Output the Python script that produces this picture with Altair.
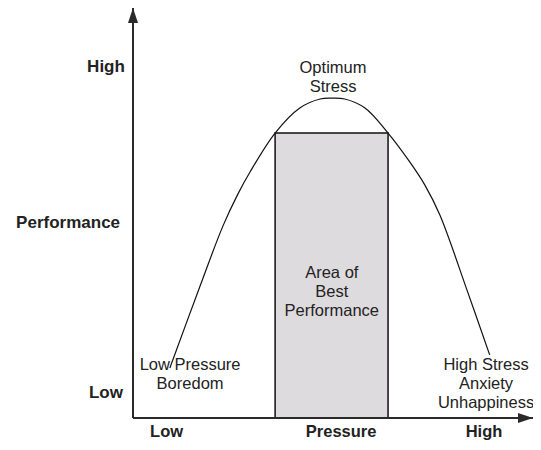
import altair as alt
import pandas as pd

# Inverted-U curve: pressure (x) vs performance (y), both on a 0-100 scale
pressure = [9.1, 16.5, 22.2, 25.9, 28.9, 35.1, 41.2, 46.2, 49.1,
            52.3, 57.3, 63.0, 68.4, 72.1, 75.8, 82.5, 88.1]
performance = [12.2, 32.0, 46.8, 54.6, 60.0, 69.5, 75.6, 77.8, 78.0,
               77.8, 75.6, 69.5, 62.4, 56.8, 49.5, 31.2, 15.4]

# Shaded "area of best performance"
zone_start = [35.1]
zone_end = [63.0]
zone_top = [69.5]

# Axis labels
y_label_text = ["High", "Performance", "Low"]
y_label_pos = [85.6, 47.6, 6.1]
x_label_text = ["Low", "Pressure", "High"]
x_label_pos = [8.3, 51.4, 86.7]

# Annotations
ann_text = ["Optimum\nStress", "Low Pressure\nBoredom",
            "Area of\nBest\nPerformance", "High Stress\nAnxiety\nUnhappiness"]
ann_x = [49.4, 14.1, 49.1, 87.2]
ann_y = [85.4, 12.9, 35.4, 12.9]

X_MIN, X_MAX = 0, 98.8
Y_MIN, Y_MAX = 0, 100

xs = alt.Scale(domain=[X_MIN, X_MAX], nice=False, zero=False)
ys = alt.Scale(domain=[Y_MIN, Y_MAX], nice=False, zero=False)

curve_df = pd.DataFrame({"x": pressure, "y": performance})
zone_df = pd.DataFrame({"x0": zone_start, "x1": zone_end, "y0": [Y_MIN], "y1": zone_top})
ylab_df = pd.DataFrame({"t": y_label_text, "y": y_label_pos, "x": [-2.0, -3.2, -2.5]})
xlab_df = pd.DataFrame({"t": x_label_text, "x": x_label_pos, "y": [-3.3] * 3})
ann_df = pd.DataFrame({"t": ann_text, "x": ann_x, "y": ann_y})
yaxis_df = pd.DataFrame({"x": [X_MIN], "y": [Y_MIN], "y2": [Y_MAX]})
xaxis_df = pd.DataFrame({"y": [Y_MIN], "x": [X_MIN], "x2": [X_MAX]})
arrow_up_df = pd.DataFrame({"x": [X_MIN], "y": [Y_MAX]})
arrow_right_df = pd.DataFrame({"x": [X_MAX], "y": [Y_MIN]})

X = lambda f: alt.X(f, type="quantitative", scale=xs, axis=None)
Y = lambda f: alt.Y(f, type="quantitative", scale=ys, axis=None)

zone = alt.Chart(zone_df).mark_rect(fill="#dedbde", stroke="#111", strokeWidth=1.5).encode(
    x=X("x0"), x2="x1", y=Y("y0"), y2="y1")

curve = alt.Chart(curve_df).mark_line(interpolate="catmull-rom", color="#111", strokeWidth=1.2).encode(
    x=X("x"), y=Y("y"))

yaxis = alt.Chart(yaxis_df).mark_rule(color="#2a2a2a", strokeWidth=2).encode(
    x=X("x"), y=Y("y"), y2="y2")
xaxis = alt.Chart(xaxis_df).mark_rule(color="#2a2a2a", strokeWidth=2).encode(
    y=Y("y"), x=X("x"), x2="x2")

arrow_up = alt.Chart(arrow_up_df).mark_point(
    shape="M0,0L0.67,2L-0.67,2Z", size=225, filled=True, color="#2a2a2a", opacity=1
).encode(x=X("x"), y=Y("y"))
arrow_right = alt.Chart(arrow_right_df).mark_point(
    shape="M0,0L-2,-0.67L-2,0.67Z", size=225, filled=True, color="#2a2a2a", opacity=1
).encode(x=X("x"), y=Y("y"))

ylab = alt.Chart(ylab_df).mark_text(
    font="Liberation Sans", fontSize=17, fontWeight="bold", align="right",
    baseline="middle", color="#222").encode(x=X("x"), y=Y("y"), text="t")
xlab = alt.Chart(xlab_df).mark_text(
    font="Liberation Sans", fontSize=16.5, fontWeight="bold", align="center",
    baseline="middle", color="#222").encode(x=X("x"), y=Y("y"), text="t")
ann = alt.Chart(ann_df).mark_text(
    font="Liberation Sans", fontSize=16.5, align="center", baseline="middle",
    lineBreak="\n", lineHeight=19, color="#222").encode(x=X("x"), y=Y("y"), text="t")

chart = alt.layer(zone, curve, yaxis, xaxis, arrow_up, arrow_right, ylab, xlab, ann).properties(
    width=400, height=410,
    padding={"left": 125, "top": 0, "right": 0, "bottom": 24},
    autosize=alt.AutoSizeParams(type="none"),
    background="white",
).configure_view(stroke=None)

chart.save("out.html", embed_options={"renderer": "svg", "actions": False})
